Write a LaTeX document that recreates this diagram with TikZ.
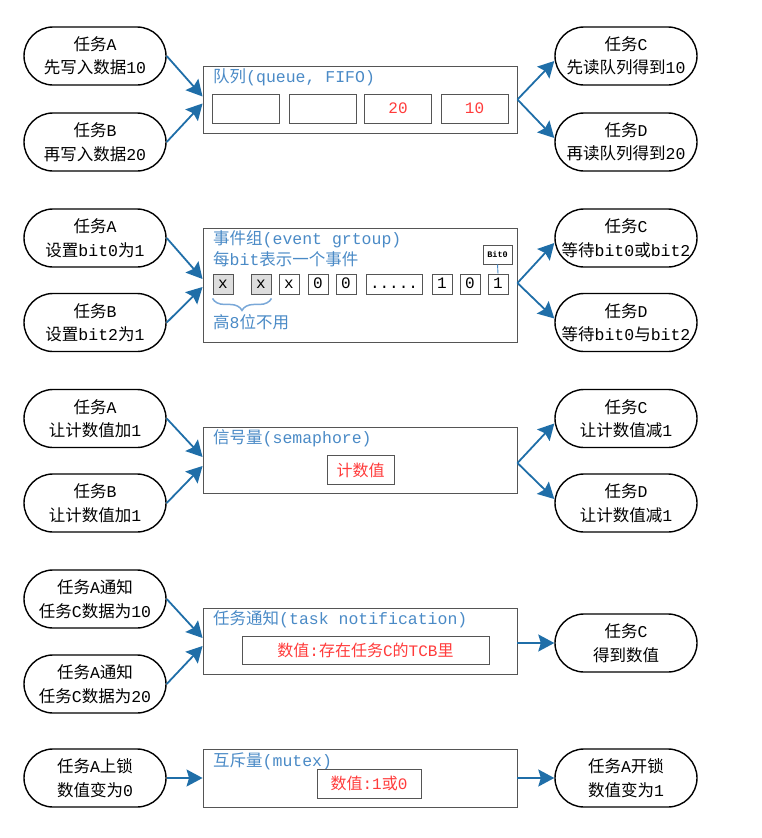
\documentclass[tikz,border=0pt]{standalone}
\usepackage{fontspec}
\setmainfont{Liberation Mono}
\newfontfamily\cjk{Noto Sans CJK SC}
\newcommand{\zh}[1]{{\cjk #1}}
\usepackage{tikz}
\usetikzlibrary{arrows.meta,decorations.pathreplacing}
\definecolor{arrowblue}{HTML}{1F6EA8}
\definecolor{titleblue}{HTML}{4A8AC6}
\definecolor{braceblue}{HTML}{7AA8D8}
\definecolor{valred}{HTML}{FF3B3B}
\definecolor{boxgray}{HTML}{555555}
\definecolor{cellfill}{HTML}{DDDDDD}

\begin{document}
\begin{tikzpicture}[x=1pt,y=-1pt,
  task/.style={draw,line width=1.4pt,rounded corners=29pt,minimum width=142pt,minimum height=58pt,inner sep=0pt,align=center,font=\fontsize{16.5}{23.5}\selectfont},
  frame/.style={draw=boxgray,line width=0.9pt,minimum width=314pt,inner sep=0pt},
  cell/.style={draw=boxgray,line width=0.9pt,minimum width=67pt,minimum height=29pt,inner sep=0pt,font=\fontsize{16}{16}\selectfont},
  bitcell/.style={draw=boxgray,line width=0.9pt,minimum width=20pt,minimum height=20pt,inner sep=0pt,text height=9.5pt,text depth=0pt,font=\fontsize{16}{16}\selectfont},
  title/.style={anchor=west,inner sep=0pt,text=titleblue,font=\fontsize{16.5}{21}\selectfont,align=left},
  flow/.style={draw=arrowblue,line width=1.8pt,-{Stealth[length=16pt,width=17pt,inset=2.5pt]}}]
\useasboundingbox (0,0) rectangle (762,838);
% queue
\node[task] (qa) at (95,56) {\zh{任务}A\\\zh{先写入数据}10};
\node[task] (qb) at (95,142) {\zh{任务}B\\\zh{再写入数据}20};
\node[frame,minimum height=67pt] (q) at (360,99.5) {};
\node[title] at (213,77) {\zh{队列}(queue, FIFO)};
\node[cell] (q1) at (245.5,108.5) {};
\node[cell] (q2) at (322.5,108.5) {};
\node[cell,text=valred] (q3) at (398,108.5) {20};
\node[cell,text=valred] (q4) at (474.5,108.5) {10};
\node[task] (qc) at (626,56) {\zh{任务}C\\\zh{先读队列得到}10};
\node[task] (qd) at (626,142) {\zh{任务}D\\\zh{再读队列得到}20};
\draw[flow] (qa.east) -- ([yshift=3pt]q.west);
\draw[flow] (qb.east) -- ([yshift=-4pt]q.west);
\draw[flow] (q.east) -- ([yshift=-5pt]qc.west);
\draw[flow] (q.east) -- ([yshift=4pt]qd.west);
% event group
\node[task] (ea) at (95,238) {\zh{任务}A\\\zh{设置}bit0\zh{为}1};
\node[task] (eb) at (95,322.5) {\zh{任务}B\\\zh{设置}bit2\zh{为}1};
\node[frame,minimum height=114pt] (e) at (360,285) {};
\node[title] at (213,248.5) {\zh{事件组}(event grtoup)\\\zh{每}bit\zh{表示一个事件}};
\node[bitcell,fill=cellfill] (e1) at (223,284) {x};
\node[bitcell,fill=cellfill] (e2) at (261,284) {x};
\node[bitcell] (e3) at (289,284) {x};
\node[bitcell] (e4) at (318,284) {0};
\node[bitcell] (e5) at (346,284) {0};
\node[bitcell,minimum width=56pt] (e6) at (394,284) {.....};
\node[bitcell] (e7) at (442,284) {1};
\node[bitcell] (e8) at (470,284) {0};
\node[bitcell] (e9) at (498,284) {1};
\node[draw=boxgray,line width=0.9pt,minimum width=29pt,minimum height=19pt,inner sep=0pt,font=\fontsize{8.5}{8.5}\selectfont\bfseries] (b0) at (497.5,254.5) {Bit0};
\draw[titleblue,line width=0.9pt] (b0.south) -- (e9.north);
\draw[braceblue,line width=1.5pt,decorate,decoration={brace,mirror,amplitude=12pt}] ([yshift=-4pt]e1.south west) -- ([yshift=-4pt]e2.south east);
\node[title] (hb) at (213,322) {\zh{高}8\zh{位不用}};
\node[task] (ec) at (626,238) {\zh{任务}C\\\zh{等待}bit0\zh{或}bit2};
\node[task] (ed) at (626,322.5) {\zh{任务}D\\\zh{等待}bit0\zh{与}bit2};
\draw[flow] (ea.east) -- ([yshift=6pt]e.west);
\draw[flow] (eb.east) -- ([yshift=-2pt]e.west);
\draw[flow] ([yshift=2pt]e.east) -- ([yshift=-5pt]ec.west);
\draw[flow] ([yshift=2pt]e.east) -- ([yshift=4pt]ed.west);
% semaphore
\node[task] (sa) at (95,418.5) {\zh{任务}A\\\zh{让计数值加}1};
\node[task] (sb) at (95,503) {\zh{任务}B\\\zh{让计数值加}1};
\node[frame,minimum height=66pt] (s) at (360,460) {};
\node[title] at (213,438) {\zh{信号量}(semaphore)};
\node[cell,text=valred] (s1) at (360.5,470) {\zh{计数值}};
\node[task] (sc) at (626,418.5) {\zh{任务}C\\\zh{让计数值减}1};
\node[task] (sd) at (626,503) {\zh{任务}D\\\zh{让计数值减}1};
\draw[flow] (sa.east) -- ([yshift=3pt]s.west);
\draw[flow] (sb.east) -- ([yshift=-6pt]s.west);
\draw[flow] ([yshift=-3pt]s.east) -- ([yshift=-5pt]sc.west);
\draw[flow] ([yshift=-3pt]s.east) -- ([yshift=4pt]sd.west);
% task notification
\node[task] (na) at (95,599) {\zh{任务}A\zh{通知}\\\zh{任务}C\zh{数据为}10};
\node[task] (nb) at (95,684) {\zh{任务}A\zh{通知}\\\zh{任务}C\zh{数据为}20};
\node[frame,minimum height=66pt] (n) at (360,641) {};
\node[title] at (213,619) {\zh{任务通知}(task notification)};
\node[cell,minimum width=247pt,minimum height=28pt,text=valred] (n1) at (365.5,650) {\zh{数值}:\zh{存在任务}C\zh{的}TCB\zh{里}};
\node[task] (nc) at (626,643) {\zh{任务}C\\\zh{得到数值}};
\draw[flow] (na.east) -- ([yshift=3pt]n.west);
\draw[flow] (nb.east) -- ([yshift=-5pt]n.west);
\draw[flow] ([yshift=-2pt]n.east) -- (nc.west);
% mutex
\node[task] (ma) at (95,778) {\zh{任务}A\zh{上锁}\\\zh{数值变为}0};
\node[frame,minimum height=58pt] (m) at (360,778) {};
\node[title] at (213,761) {\zh{互斥量}(mutex)};
\node[cell,minimum width=104pt,text=valred] (m1) at (369,783.5) {\zh{数值}:1\zh{或}0};
\node[task] (mc) at (626,778) {\zh{任务}A\zh{开锁}\\\zh{数值变为}1};
\draw[flow] (ma.east) -- (m.west);
\draw[flow] (m.east) -- (mc.west);
\end{tikzpicture}
\end{document}
